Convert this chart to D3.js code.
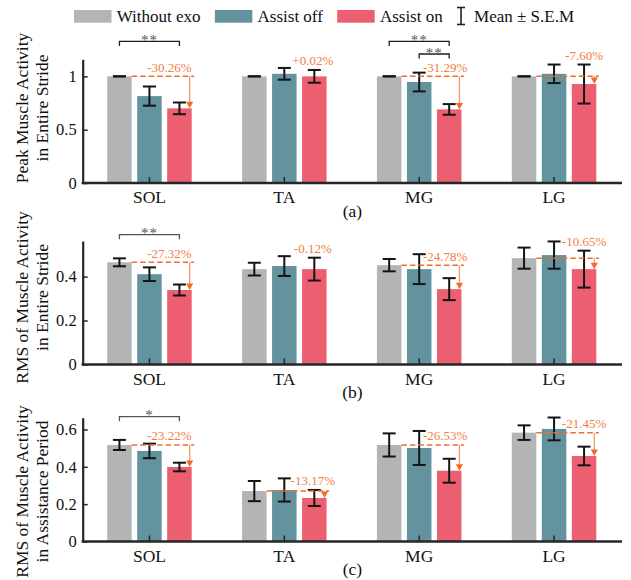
<!DOCTYPE html>
<html>
<head>
<meta charset="utf-8">
<script src="https://cdn.jsdelivr.net/npm/d3@7"></script>
<style>
  html, body { margin: 0; padding: 0; background: #fff; }
  svg { display: block; font-family: "Liberation Serif", "Times New Roman", serif; }
</style>
</head>
<body>
<svg id="chart" width="631" height="580"></svg>
<script>
// ---------------- DATA ----------------
const categories = ["SOL", "TA", "MG", "LG"];
const series = ["Without exo", "Assist off", "Assist on"];
const seriesColors = ["#b3b4b6", "#63939e", "#ec5f70"];

// (a) Peak muscle activity in entire stride (normalised)
const peakWithout    = [1.000, 1.000, 1.000, 1.000];
const peakWithoutSem = [0.000, 0.000, 0.000, 0.000];
const peakOff        = [0.815, 1.024, 0.947, 1.024];
const peakOffSem     = [0.090, 0.055, 0.088, 0.087];
const peakOn         = [0.700, 1.000, 0.690, 0.928];
const peakOnSem      = [0.055, 0.060, 0.050, 0.183];
const peakChange     = [-30.26, 0.02, -31.29, -7.60];
const peakTicks      = [0, 0.5, 1];
const peakSig        = [["SOL", 0, 2, "**"], ["MG", 0, 2, "**"], ["MG", 1, 2, "**"]];

// (b) RMS of muscle activity in entire stride
const strideWithout    = [0.465, 0.434, 0.452, 0.484];
const strideWithoutSem = [0.018, 0.029, 0.028, 0.048];
const strideOff        = [0.411, 0.448, 0.434, 0.498];
const strideOffSem     = [0.031, 0.045, 0.068, 0.062];
const strideOn         = [0.339, 0.434, 0.343, 0.434];
const strideOnSem      = [0.025, 0.052, 0.050, 0.084];
const strideChange     = [-27.32, -0.12, -24.78, -10.65];
const strideTicks      = [0, 0.2, 0.4];
const strideSig        = [["SOL", 0, 2, "**"]];

// (c) RMS of muscle activity in assistance period
const assistWithout    = [0.517, 0.270, 0.517, 0.583];
const assistWithoutSem = [0.027, 0.054, 0.062, 0.039];
const assistOff        = [0.485, 0.276, 0.501, 0.603];
const assistOffSem     = [0.039, 0.062, 0.091, 0.061];
const assistOn         = [0.399, 0.233, 0.379, 0.458];
const assistOnSem      = [0.023, 0.043, 0.064, 0.050];
const assistChange     = [-23.22, -13.17, -26.53, -21.45];
const assistTicks      = [0, 0.2, 0.4, 0.6];
const assistSig        = [["SOL", 0, 2, "*"]];

// ---------------- LAYOUT ----------------
const panels = [
  { tag: "(a)", means: [peakWithout, peakOff, peakOn], sems: [peakWithoutSem, peakOffSem, peakOnSem],
    change: peakChange, ticks: peakTicks, max: 1.16, top: 59.3, bottom: 183,
    ylabel: ["Peak Muscle Activity", "in Entire Stride"], labelCenter: 108,
    sig: peakSig, sigOffsets: [18, 5.3], sigColor: "#1e1e1e" },
  { tag: "(b)", means: [strideWithout, strideOff, strideOn], sems: [strideWithoutSem, strideOffSem, strideOnSem],
    change: strideChange, ticks: strideTicks, max: 0.562, top: 241, bottom: 364.5,
    ylabel: ["RMS of Muscle Activity", "in Entire Stride"], labelCenter: 297.5,
    sig: strideSig, sigOffsets: [6.3, 0], sigColor: "#555" },
  { tag: "(c)", means: [assistWithout, assistOff, assistOn], sems: [assistWithoutSem, assistOffSem, assistOnSem],
    change: assistChange, ticks: assistTicks, max: 0.663, top: 417.7, bottom: 541.5,
    ylabel: ["RMS of Muscle Activity", "in Assistance Period"], labelCenter: 491.5,
    sig: assistSig, sigOffsets: [1, 0], sigColor: "#555" }
];
const axisLeftX = 82.7, axisRightX = 622;
const labelDx = [-10, -1.5, -4, 0];
const axisColor = "#262626";
const orange = "#f26d2c", orangeText = "#f27d40", orangeArrow = "#f59866";

const svg = d3.select("#chart");

const x0 = d3.scaleBand().domain(categories).range([82, 621.5]);
const x1 = d3.scaleBand().domain(series).range([-42.25, 42.25]).paddingInner(0.1833);
const bw = x1.bandwidth();
const cx = (cat, si) => x0(cat) + x0.bandwidth() / 2 + x1(series[si]) + bw / 2;

panels.forEach(p => {
  const y = d3.scaleLinear().domain([0, p.max]).range([p.bottom, p.top]);
  const g = svg.append("g");

  // bars
  series.forEach((s, si) => {
    g.selectAll(null).data(categories).enter().append("rect")
      .attr("x", (c) => cx(c, si) - bw / 2)
      .attr("y", (c, i) => y(p.means[si][i]))
      .attr("width", bw)
      .attr("height", (c, i) => y(0) - y(p.means[si][i]))
      .attr("fill", seriesColors[si]);
  });

  // y axis
  const yAxis = d3.axisLeft(y).tickValues(p.ticks).tickFormat(d3.format("~g"))
    .tickSizeInner(-5).tickSizeOuter(0).tickPadding(6);
  const ya = g.append("g").attr("transform", `translate(${axisLeftX},0)`).call(yAxis);
  ya.select(".domain").attr("stroke", axisColor).attr("stroke-width", 2.2);
  ya.selectAll(".tick line").attr("stroke", axisColor).attr("stroke-width", 1.5);
  ya.selectAll(".tick text").attr("font-size", 16.5).attr("fill", "#111")
    .attr("font-family", "Liberation Serif, Times New Roman, serif");

  // x axis
  const xAxis = d3.axisBottom(x0).tickSizeInner(-6).tickSizeOuter(0).tickPadding(8);
  const xa = g.append("g").attr("transform", `translate(0,${p.bottom})`).call(xAxis);
  xa.select(".domain").remove();
  xa.selectAll(".tick line").attr("stroke", axisColor).attr("stroke-width", 1.5);
  xa.selectAll(".tick text").attr("font-size", 17.5).attr("fill", "#111")
    .attr("font-family", "Liberation Serif, Times New Roman, serif");
  g.append("line").attr("x1", axisLeftX - 1.1).attr("x2", axisRightX)
    .attr("y1", p.bottom).attr("y2", p.bottom)
    .attr("stroke", axisColor).attr("stroke-width", 2.4);

  // panel tag
  g.append("text").attr("x", (axisLeftX + axisRightX) / 2).attr("y", p.bottom + 33.5)
    .attr("text-anchor", "middle").attr("font-size", 17.5).attr("fill", "#111").text(p.tag);

  // y label
  p.ylabel.forEach((t, li) => {
    g.append("text")
      .attr("transform", `translate(${28 + li * 20},${p.labelCenter}) rotate(-90)`)
      .attr("text-anchor", "middle").attr("font-size", 17.5).attr("fill", "#111").text(t);
  });

  // error bars
  series.forEach((s, si) => {
    categories.forEach((c, i) => {
      const m = p.means[si][i], e = p.sems[si][i];
      const xc = cx(c, si);
      const eg = g.append("g").attr("stroke", "#141414").attr("stroke-width", 2);
      eg.append("line").attr("x1", xc).attr("x2", xc).attr("y1", y(m - e)).attr("y2", y(m + e));
      eg.append("line").attr("x1", xc - 6.5).attr("x2", xc + 6.5).attr("y1", y(m + e)).attr("y2", y(m + e));
      eg.append("line").attr("x1", xc - 6.5).attr("x2", xc + 6.5).attr("y1", y(m - e)).attr("y2", y(m - e));
    });
  });

  // change annotations
  categories.forEach((c, i) => {
    const base = p.means[0][i], on = p.means[2][i], onSem = p.sems[2][i];
    const ch = p.change[i];
    const lineY = y(base);
    const redRight = cx(c, 2) + bw / 2;
    const arrowX = redRight - 2;
    if (Math.abs(ch) >= 1) {
      g.append("line").attr("x1", cx(c, 0) + bw / 2).attr("x2", arrowX + 4.5)
        .attr("y1", lineY).attr("y2", lineY)
        .attr("stroke", orange).attr("stroke-width", 1.5).attr("stroke-dasharray", "5.5,3");
      const tipY = y(on);
      g.append("line").attr("x1", arrowX).attr("x2", arrowX).attr("y1", lineY).attr("y2", tipY - 5)
        .attr("stroke", orangeArrow).attr("stroke-width", 1.3);
      g.append("path")
        .attr("d", `M${arrowX - 3.6},${tipY - 6.5} L${arrowX + 3.6},${tipY - 6.5} L${arrowX},${tipY} Z`)
        .attr("fill", orange);
    }
    const ly = Math.min(lineY, y(on + onSem)) - 4.5;
    const txt = (ch > 0 ? "+" : "-") + Math.abs(ch).toFixed(2) + "%";
    g.append("text").attr("x", cx(c, 2) + labelDx[i]).attr("y", ly)
      .attr("text-anchor", "middle").attr("font-size", 13).attr("fill", orangeText).text(txt);
  });

  // significance brackets
  p.sig.forEach(([c, a, b, stars]) => {
    const yb = p.top - (b - a === 2 ? p.sigOffsets[0] : p.sigOffsets[1]);
    const xa_ = cx(c, a), xb_ = cx(c, b);
    g.append("path").attr("d", `M${xa_},${yb + 4.6} V${yb} H${xb_} V${yb + 4.6}`)
      .attr("fill", "none").attr("stroke", p.sigColor).attr("stroke-width", 1.3);
    g.append("text").attr("x", (xa_ + xb_) / 2).attr("y", yb + 3.5)
      .attr("text-anchor", "middle").attr("font-size", 15).attr("letter-spacing", 1)
      .attr("fill", "#555").text(stars);
  });
});

// ---------------- LEGEND ----------------
const leg = svg.append("g");
let lx = 74;
const legBase = 21.7;
series.forEach((s, si) => {
  leg.append("rect").attr("x", lx).attr("y", 10).attr("width", 37.5).attr("height", 12.7)
    .attr("fill", seriesColors[si]);
  const t = leg.append("text").attr("x", lx + 42.7).attr("y", legBase)
    .attr("font-size", 17).attr("fill", "#111").text(s);
  lx = lx + 42.7 + t.node().getComputedTextLength() + 14.3;
});
const ix = lx + 4;
const ig = leg.append("g").attr("stroke", "#222").attr("stroke-width", 1.6);
ig.append("line").attr("x1", ix).attr("x2", ix).attr("y1", 7.5).attr("y2", 24.5);
ig.append("line").attr("x1", ix - 4).attr("x2", ix + 4).attr("y1", 7.5).attr("y2", 7.5);
ig.append("line").attr("x1", ix - 4).attr("x2", ix + 4).attr("y1", 24.5).attr("y2", 24.5);
leg.append("text").attr("x", ix + 13).attr("y", legBase).attr("font-size", 17).attr("fill", "#111")
  .text("Mean ± S.E.M");
</script>
</body>
</html>
